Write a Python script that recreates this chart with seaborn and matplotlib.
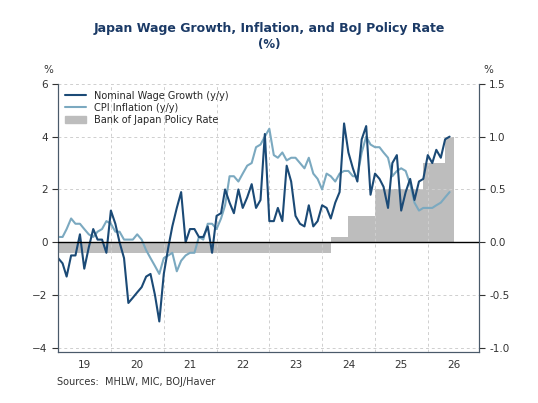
import numpy as np
import pandas as pd
import matplotlib
matplotlib.use("Agg")
import matplotlib.pyplot as plt
import seaborn as sns

months = pd.date_range("2019-01-01", periods=90, freq="MS")

wage = [-0.6, -0.8, -1.3, -0.5, -0.5, 0.3, -1.0, -0.2, 0.5, 0.1, 0.1, -0.4,
        1.2, 0.7, 0.0, -0.6, -2.3, -2.1, -1.9, -1.7, -1.3, -1.2, -2.0, -3.0,
        -1.2, -0.2, 0.6, 1.3, 1.9, 0.0, 0.5, 0.5, 0.2, 0.2, 0.6, -0.4,
        1.0, 1.1, 2.0, 1.5, 1.1, 2.0, 1.3, 1.7, 2.2, 1.3, 1.6, 4.1,
        0.8, 0.8, 1.3, 0.8, 2.9, 2.3, 1.0, 0.7, 0.6, 1.4, 0.6, 0.8,
        1.4, 1.3, 0.9, 1.5, 1.9, 4.5, 3.4, 2.8, 2.3, 3.9, 4.4, 1.8,
        2.6, 2.4, 2.1, 1.3, 3.0, 3.3, 1.2, 1.9, 2.4, 1.6, 2.3, 2.4,
        3.3, 3.0, 3.5, 3.2, 3.9, 4.0]

cpi = [0.2, 0.2, 0.5, 0.9, 0.7, 0.7, 0.5, 0.3, 0.2, 0.4, 0.5, 0.8,
       0.7, 0.4, 0.4, 0.1, 0.1, 0.1, 0.3, 0.1, -0.3, -0.6, -0.9, -1.2,
       -0.6, -0.5, -0.4, -1.1, -0.7, -0.5, -0.4, -0.4, 0.2, 0.1, 0.7, 0.7,
       0.5, 0.9, 1.4, 2.5, 2.5, 2.3, 2.6, 2.9, 3.0, 3.6, 3.7, 4.0,
       4.3, 3.3, 3.2, 3.4, 3.1, 3.2, 3.2, 3.0, 2.8, 3.2, 2.6, 2.4,
       2.0, 2.6, 2.5, 2.3, 2.6, 2.7, 2.7, 2.5, 2.5, 3.4, 4.0, 3.7,
       3.6, 3.6, 3.4, 3.2, 2.5, 2.7, 2.8, 2.7, 2.2, 1.5, 1.2, 1.3,
       1.3, 1.3, 1.4, 1.5, 1.7, 1.9]

policy = [-0.1] * 62 + [0.05] * 4 + [0.25] * 6 + [0.5] * 11 + [0.75] * 5 + [1.0] * 2

years = list(range(2019, 2027))
year_labels = [str(y)[2:] for y in years]

df = pd.DataFrame({"date": months, "wage": wage, "cpi": cpi, "policy": policy})

sns.set_style("white")
plt.rcParams["font.family"] = ["Verdana", "DejaVu Sans"]

dark = "#1b4a76"
light = "#7ba9c0"
grey = "#bdbdbd"
axcol = "#4a5a6a"

fig = plt.figure(figsize=(5.38, 4.03), dpi=100)
ax = fig.add_axes([0.108, 0.127, 0.782, 0.665])
ax2 = ax.twinx()

# policy rate on right axis, drawn behind the lines
pdates = list(df["date"]) + [pd.Timestamp("2026-07-01")]
pvals = list(df["policy"]) + [df["policy"].iloc[-1]]
ax2.fill_between(pdates, 0, pvals, step="post", color=grey, lw=0, zorder=1)
ax2.set_ylim(-4.15 / 4, 6.0 / 4)
ax2.set_yticks([-1.0, -0.5, 0.0, 0.5, 1.0, 1.5])
ax2.set_yticklabels(["-1.0", "-0.5", "0.0", "0.5", "1.0", "1.5"])
ax2.set_zorder(1)
ax.set_zorder(2)
ax.patch.set_visible(False)

sns.lineplot(data=df, x="date", y="cpi", ax=ax, color=light, lw=1.5, label="CPI Inflation (y/y)")
sns.lineplot(data=df, x="date", y="wage", ax=ax, color=dark, lw=1.5, label="Nominal Wage Growth (y/y)")
ax.axhline(0, color="black", lw=1.0, zorder=3)

ax.set_ylim(-4.15, 6.0)
ax.set_yticks([-4, -2, 0, 2, 4, 6])
ax.set_xlim(pd.Timestamp("2019-01-01"), pd.Timestamp("2026-12-20"))
ax.set_xticks([pd.Timestamp(f"{y}-01-01") for y in years])
ax.set_xticklabels([])
ax.set_xticks([pd.Timestamp(f"{y}-07-01") for y in years], minor=True)
ax.set_xticklabels(year_labels, minor=True)
ax.grid(True, which="major", ls=(0, (3, 3)), color="#cfcfcf", lw=0.7)
ax.set_xlabel("")
ax.set_ylabel("")

for a in (ax, ax2):
    a.tick_params(which="both", labelsize=7.5, colors="#333333", length=4)
    for s in a.spines.values():
        s.set_color(axcol)
    a.spines["top"].set_visible(False)
ax.tick_params(axis="x", which="minor", length=0, pad=6)
ax.tick_params(axis="x", which="major", length=6, color=axcol, direction="out")

h, l = ax.get_legend_handles_labels()
h = [h[1], h[0], plt.Rectangle((0, 0), 1, 1, color=grey)]
l = [l[1], l[0], "Bank of Japan Policy Rate"]
ax.legend(h, l, loc="upper left", frameon=False, fontsize=7, handlelength=2.2,
          borderaxespad=0.3, labelspacing=0.2)

fig.text(0.5, 0.92, "Japan Wage Growth, Inflation, and BoJ Policy Rate",
         ha="center", fontsize=9, fontweight="bold", color="#1b3a66")
fig.text(0.5, 0.882, "(%)", ha="center", fontsize=8.5, fontweight="bold", color="#1b3a66")
fig.text(0.08, 0.82, "%", fontsize=7.5, color="#333333")
fig.text(0.898, 0.82, "%", fontsize=7.5, color="#333333")
fig.text(0.106, 0.045, "Sources:  MHLW, MIC, BOJ/Haver", fontsize=7, color="#333333")

fig.savefig("out.png", dpi=100)
